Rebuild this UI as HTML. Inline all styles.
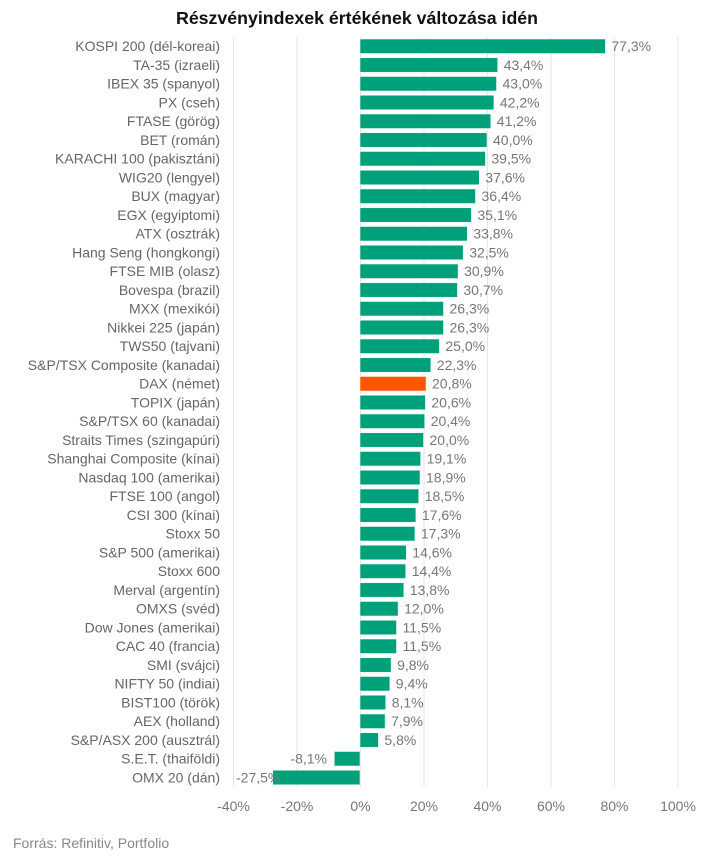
<!DOCTYPE html>
<html><head><meta charset="utf-8"><style>
html,body{margin:0;padding:0;background:#fff;}
svg{display:block;font-family:"Liberation Sans",Arial,sans-serif;}
.l{font-size:14px;fill:#666;text-anchor:end;}
.v{font-size:14px;fill:#777;}
.g{stroke:#e6e6e6;stroke-width:1;}
.b{fill:#00a07a;stroke:#e8f5f0;stroke-width:0.6;}
.t{font-size:14px;fill:#777;text-anchor:middle;}
</style></head><body>
<svg width="713" height="859" viewBox="0 0 713 859">
<text x="357" y="24" text-anchor="middle" font-size="17.5" font-weight="bold" fill="#111" textLength="362" lengthAdjust="spacingAndGlyphs">Részvényindexek értékének változása idén</text>
<line class="g" x1="233.5" y1="37" x2="233.5" y2="787"/>
<line class="g" x1="297" y1="37" x2="297" y2="787"/>
<line class="g" x1="360.5" y1="37" x2="360.5" y2="787"/>
<line class="g" x1="424" y1="37" x2="424" y2="787"/>
<line class="g" x1="487.5" y1="37" x2="487.5" y2="787"/>
<line class="g" x1="551" y1="37" x2="551" y2="787"/>
<line class="g" x1="614.5" y1="37" x2="614.5" y2="787"/>
<line class="g" x1="678" y1="37" x2="678" y2="787"/>
<g transform="translate(0,0)"><text class="l" x="220" y="51">KOSPI 200 (dél-koreai)</text><rect class="b" x="360" y="39" width="245.4" height="14.5"/><text class="v" x="611.4" y="51">77,3%</text></g>
<g transform="translate(0,18.75)"><text class="l" x="220" y="51">TA-35 (izraeli)</text><rect class="b" x="360" y="39" width="137.7" height="14.5"/><text class="v" x="503.7" y="51">43,4%</text></g>
<g transform="translate(0,37.5)"><text class="l" x="220" y="51">IBEX 35 (spanyol)</text><rect class="b" x="360" y="39" width="136.5" height="14.5"/><text class="v" x="502.5" y="51">43,0%</text></g>
<g transform="translate(0,56.25)"><text class="l" x="220" y="51">PX (cseh)</text><rect class="b" x="360" y="39" width="133.9" height="14.5"/><text class="v" x="499.9" y="51">42,2%</text></g>
<g transform="translate(0,75)"><text class="l" x="220" y="51">FTASE (görög)</text><rect class="b" x="360" y="39" width="130.8" height="14.5"/><text class="v" x="496.8" y="51">41,2%</text></g>
<g transform="translate(0,93.75)"><text class="l" x="220" y="51">BET (román)</text><rect class="b" x="360" y="39" width="127" height="14.5"/><text class="v" x="493" y="51">40,0%</text></g>
<g transform="translate(0,112.5)"><text class="l" x="220" y="51">KARACHI 100 (pakisztáni)</text><rect class="b" x="360" y="39" width="125.4" height="14.5"/><text class="v" x="491.4" y="51">39,5%</text></g>
<g transform="translate(0,131.25)"><text class="l" x="220" y="51">WIG20 (lengyel)</text><rect class="b" x="360" y="39" width="119.3" height="14.5"/><text class="v" x="485.3" y="51">37,6%</text></g>
<g transform="translate(0,150)"><text class="l" x="220" y="51">BUX (magyar)</text><rect class="b" x="360" y="39" width="115.5" height="14.5"/><text class="v" x="481.5" y="51">36,4%</text></g>
<g transform="translate(0,168.75)"><text class="l" x="220" y="51">EGX (egyiptomi)</text><rect class="b" x="360" y="39" width="111.4" height="14.5"/><text class="v" x="477.4" y="51">35,1%</text></g>
<g transform="translate(0,187.5)"><text class="l" x="220" y="51">ATX (osztrák)</text><rect class="b" x="360" y="39" width="107.3" height="14.5"/><text class="v" x="473.3" y="51">33,8%</text></g>
<g transform="translate(0,206.25)"><text class="l" x="220" y="51">Hang Seng (hongkongi)</text><rect class="b" x="360" y="39" width="103.2" height="14.5"/><text class="v" x="469.2" y="51">32,5%</text></g>
<g transform="translate(0,225)"><text class="l" x="220" y="51">FTSE MIB (olasz)</text><rect class="b" x="360" y="39" width="98.1" height="14.5"/><text class="v" x="464.1" y="51">30,9%</text></g>
<g transform="translate(0,243.75)"><text class="l" x="220" y="51">Bovespa (brazil)</text><rect class="b" x="360" y="39" width="97.4" height="14.5"/><text class="v" x="463.4" y="51">30,7%</text></g>
<g transform="translate(0,262.5)"><text class="l" x="220" y="51">MXX (mexikói)</text><rect class="b" x="360" y="39" width="83.5" height="14.5"/><text class="v" x="449.5" y="51">26,3%</text></g>
<g transform="translate(0,281.25)"><text class="l" x="220" y="51">Nikkei 225 (japán)</text><rect class="b" x="360" y="39" width="83.5" height="14.5"/><text class="v" x="449.5" y="51">26,3%</text></g>
<g transform="translate(0,300)"><text class="l" x="220" y="51">TWS50 (tajvani)</text><rect class="b" x="360" y="39" width="79.4" height="14.5"/><text class="v" x="445.4" y="51">25,0%</text></g>
<g transform="translate(0,318.75)"><text class="l" x="220" y="51">S&amp;P/TSX Composite (kanadai)</text><rect class="b" x="360" y="39" width="70.8" height="14.5"/><text class="v" x="436.8" y="51">22,3%</text></g>
<g transform="translate(0,337.5)"><text class="l" x="220" y="51">DAX (német)</text><rect x="360" y="39" width="66" height="14.5" fill="#ff5500" stroke="#ffe6da" stroke-width="0.6"/><text class="v" x="432" y="51">20,8%</text></g>
<g transform="translate(0,356.25)"><text class="l" x="220" y="51">TOPIX (japán)</text><rect class="b" x="360" y="39" width="65.4" height="14.5"/><text class="v" x="431.4" y="51">20,6%</text></g>
<g transform="translate(0,375)"><text class="l" x="220" y="51">S&amp;P/TSX 60 (kanadai)</text><rect class="b" x="360" y="39" width="64.7" height="14.5"/><text class="v" x="430.7" y="51">20,4%</text></g>
<g transform="translate(0,393.75)"><text class="l" x="220" y="51">Straits Times (szingapúri)</text><rect class="b" x="360" y="39" width="63.5" height="14.5"/><text class="v" x="429.5" y="51">20,0%</text></g>
<g transform="translate(0,412.5)"><text class="l" x="220" y="51">Shanghai Composite (kínai)</text><rect class="b" x="360" y="39" width="60.6" height="14.5"/><text class="v" x="426.6" y="51">19,1%</text></g>
<g transform="translate(0,431.25)"><text class="l" x="220" y="51">Nasdaq 100 (amerikai)</text><rect class="b" x="360" y="39" width="60" height="14.5"/><text class="v" x="426" y="51">18,9%</text></g>
<g transform="translate(0,450)"><text class="l" x="220" y="51">FTSE 100 (angol)</text><rect class="b" x="360" y="39" width="58.7" height="14.5"/><text class="v" x="424.7" y="51">18,5%</text></g>
<g transform="translate(0,468.75)"><text class="l" x="220" y="51">CSI 300 (kínai)</text><rect class="b" x="360" y="39" width="55.9" height="14.5"/><text class="v" x="421.9" y="51">17,6%</text></g>
<g transform="translate(0,487.5)"><text class="l" x="220" y="51">Stoxx 50</text><rect class="b" x="360" y="39" width="54.9" height="14.5"/><text class="v" x="420.9" y="51">17,3%</text></g>
<g transform="translate(0,506.25)"><text class="l" x="220" y="51">S&amp;P 500 (amerikai)</text><rect class="b" x="360" y="39" width="46.3" height="14.5"/><text class="v" x="412.3" y="51">14,6%</text></g>
<g transform="translate(0,525)"><text class="l" x="220" y="51">Stoxx 600</text><rect class="b" x="360" y="39" width="45.7" height="14.5"/><text class="v" x="411.7" y="51">14,4%</text></g>
<g transform="translate(0,543.75)"><text class="l" x="220" y="51">Merval (argentín)</text><rect class="b" x="360" y="39" width="43.8" height="14.5"/><text class="v" x="409.8" y="51">13,8%</text></g>
<g transform="translate(0,562.5)"><text class="l" x="220" y="51">OMXS (svéd)</text><rect class="b" x="360" y="39" width="38.1" height="14.5"/><text class="v" x="404.1" y="51">12,0%</text></g>
<g transform="translate(0,581.25)"><text class="l" x="220" y="51">Dow Jones (amerikai)</text><rect class="b" x="360" y="39" width="36.5" height="14.5"/><text class="v" x="402.5" y="51">11,5%</text></g>
<g transform="translate(0,600)"><text class="l" x="220" y="51">CAC 40 (francia)</text><rect class="b" x="360" y="39" width="36.5" height="14.5"/><text class="v" x="402.5" y="51">11,5%</text></g>
<g transform="translate(0,618.75)"><text class="l" x="220" y="51">SMI (svájci)</text><rect class="b" x="360" y="39" width="31.1" height="14.5"/><text class="v" x="397.1" y="51">9,8%</text></g>
<g transform="translate(0,637.5)"><text class="l" x="220" y="51">NIFTY 50 (indiai)</text><rect class="b" x="360" y="39" width="29.8" height="14.5"/><text class="v" x="395.8" y="51">9,4%</text></g>
<g transform="translate(0,656.25)"><text class="l" x="220" y="51">BIST100 (török)</text><rect class="b" x="360" y="39" width="25.7" height="14.5"/><text class="v" x="391.7" y="51">8,1%</text></g>
<g transform="translate(0,675)"><text class="l" x="220" y="51">AEX (holland)</text><rect class="b" x="360" y="39" width="25.1" height="14.5"/><text class="v" x="391.1" y="51">7,9%</text></g>
<g transform="translate(0,693.75)"><text class="l" x="220" y="51">S&amp;P/ASX 200 (ausztrál)</text><rect class="b" x="360" y="39" width="18.4" height="14.5"/><text class="v" x="384.4" y="51">5,8%</text></g>
<g transform="translate(0,712.5)"><text class="l" x="220" y="51">S.E.T. (thaiföldi)</text><rect class="b" x="334.3" y="39" width="25.7" height="14.5"/><text class="v" x="327" y="51" text-anchor="end">-8,1%</text></g>
<g transform="translate(0,731.25)"><text class="l" x="220" y="51">OMX 20 (dán)</text><rect class="b" x="272.7" y="39" width="87.3" height="14.5"/><text class="v" x="236" y="51">-27,5%</text></g>
<text class="t" x="233.5" y="811">-40%</text>
<text class="t" x="297" y="811">-20%</text>
<text class="t" x="360.5" y="811">0%</text>
<text class="t" x="424" y="811">20%</text>
<text class="t" x="487.5" y="811">40%</text>
<text class="t" x="551" y="811">60%</text>
<text class="t" x="614.5" y="811">80%</text>
<text class="t" x="678" y="811">100%</text>
<text x="13" y="848" font-size="14" fill="#888">Forrás: Refinitiv, Portfolio</text>
</svg>
</body></html>
